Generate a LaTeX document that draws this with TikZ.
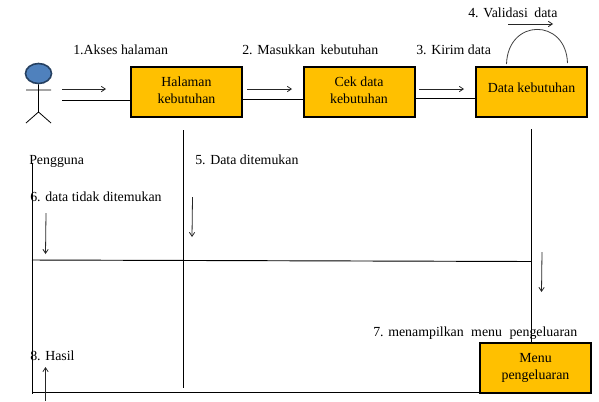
\documentclass[tikz,border=0pt]{standalone}
\usepackage{fontspec}
\setmainfont{Liberation Serif}
\usetikzlibrary{arrows.meta,shapes.geometric}
\tikzset{
  box/.style={draw=black,line width=1.5pt,fill=boxgold,minimum width=83.25pt,minimum height=37.5pt,inner sep=0pt,align=center,font=\fontsize{10.4pt}{12.75pt}\selectfont,anchor=center},
  lbl/.style={inner sep=0pt,anchor=base west,font=\fontsize{10.4pt}{12pt}\selectfont},
  flow/.style={draw=black!85,line width=0.6pt,-{Straight Barb[length=3pt,width=4pt]}},
  wire/.style={draw=black,line width=0.7pt}
}
\definecolor{boxgold}{RGB}{255,192,0}
\definecolor{headblue}{RGB}{79,129,189}
\definecolor{headedge}{RGB}{37,64,97}
\begin{document}
\begin{tikzpicture}[x=0.75pt,y=-0.75pt]
\useasboundingbox (0,0) rectangle (599,401);
\fill[white] (0,0) rectangle (599,401);
% lifelines and return lines (behind boxes)
\coordinate (hlTop) at (183,130);
\coordinate (hlBot) at (183,388);
\coordinate (dkTop) at (531.5,129);
\coordinate (mpTop) at (531.5,343);
\coordinate (leftTop) at (32,163);
\coordinate (leftBot) at (32,394);
\coordinate (midL) at (32,260);
\coordinate (midR) at (531.5,261.5);
\coordinate (botL) at (32,392.5);
\coordinate (a1) at (62,100);
% boxes
\node[box] (hal) at (186.5,92) {\raisebox{4pt}{\begin{tabular}{@{}c@{}}Halaman\\kebutuhan\end{tabular}}};
\node[box] (cek) at (359,92) {\raisebox{4pt}{\begin{tabular}{@{}c@{}}Cek data\\kebutuhan\end{tabular}}};
\node[box] (dat) at (531.5,92) {\raisebox{7pt}{Data kebutuhan}};
\node[box] (men) at (535.5,368) {\raisebox{3pt}{\begin{tabular}{@{}c@{}}Menu\\pengeluaran\end{tabular}}};
% actor
\node[draw=headedge,line width=1.2pt,fill=headblue,ellipse,minimum width=19.5pt,minimum height=15pt,inner sep=0pt] (head) at (38.5,73.5) {};
\coordinate (hip) at (38.5,112);
\coordinate (armL) at (26,90);
\coordinate (armR) at (51,90);
\coordinate (legL) at (26,123);
\coordinate (legR) at (51,123);
\draw[line width=0.6pt] (head.south) -- (hip) (armL) -- (armR) (legL) -- (hip) -- (legR);
% connectors
\draw[wire] (a1) -- (a1-|hal.west);
\draw[wire] (hal.east|-0,99) -- (cek.west|-0,99);
\draw[wire] (cek.east|-0,98) -- (dat.west|-0,98);
\draw[wire] (hlTop) -- (hlBot);
\draw[wire] (dkTop) -- (mpTop);
\draw[wire] (leftTop) -- (leftBot);
\draw[wire] (midL) -- (midR);
\draw[wire] (botL) -- (botL-|men.west);
% self loop
\coordinate (loopA) at (506.5,64);
\coordinate (loopB) at (567.5,63);
\draw[draw=black!75,line width=0.6pt] (loopA) .. controls (508,18) and (566,18) .. (loopB);
% message arrows
\coordinate (f1a) at (62,89); \coordinate (f1b) at (106,89);
\coordinate (f2a) at (247,89); \coordinate (f2b) at (292,89);
\coordinate (f3a) at (419,89); \coordinate (f3b) at (464,89);
\coordinate (f4a) at (508,24); \coordinate (f4b) at (553,24);
\coordinate (f5a) at (192.5,197); \coordinate (f5b) at (192,237);
\coordinate (f6a) at (46,213); \coordinate (f6b) at (45.5,254);
\coordinate (f7a) at (542,252); \coordinate (f7b) at (541.5,292);
\coordinate (f8a) at (45.5,401); \coordinate (f8b) at (45.5,367);
\foreach \p/\q in {f1a/f1b,f2a/f2b,f3a/f3b,f4a/f4b,f5a/f5b,f6a/f6b,f7a/f7b,f8a/f8b} \draw[flow] (\p) -- (\q);
% labels
\node[lbl] (l1) at (73,54) {1.Akses halaman};
\node[lbl] (l2) at (242,54) {2. Masukkan\hspace{1.5pt} kebutuhan};
\node[lbl] (l3) at (416,54) {3. Kirim data};
\node[lbl] (l4) at (468,17.5) {4. Validasi\hspace{2.2pt} data};
\node[lbl] (l5) at (195,164) {5. Data ditemukan};
\node[lbl] (l6) at (30,201) {6. data tidak ditemukan};
\node[lbl] (l7) at (373,336) {7. menampilkan\hspace{3pt} menu\hspace{3pt} pengeluaran};
\node[lbl] (l8) at (30,360) {8. Hasil};
\node[lbl] (lp) at (29,164) {Pengguna};
\end{tikzpicture}
\end{document}
